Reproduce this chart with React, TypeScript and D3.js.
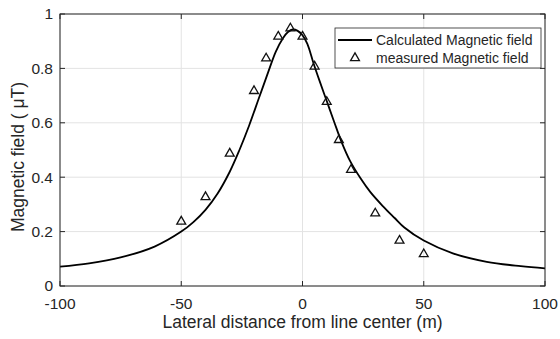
import React from "react";
import * as d3 from "d3";

// Calculated field profile (lateral distance in m, field in µT)
const calcX = [-100, -88, -75, -61, -50, -45, -40, -35, -30, -26, -22, -18, -14, -11, -8, -6, -4, -2, 0, 2, 4.5, 7, 10, 13, 16, 19.6, 24, 28, 33, 38, 42, 50, 62, 76, 90, 100];
const calcY = [0.071, 0.083, 0.105, 0.145, 0.2, 0.235, 0.28, 0.34, 0.42, 0.5, 0.59, 0.69, 0.79, 0.862, 0.912, 0.934, 0.943, 0.938, 0.922, 0.89, 0.82, 0.755, 0.68, 0.605, 0.532, 0.46, 0.395, 0.345, 0.295, 0.25, 0.215, 0.167, 0.12, 0.089, 0.073, 0.065];

// Measured field
const measX = [-50, -40, -30, -20, -15, -10, -5, 0, 5, 10, 15, 20, 30, 40, 50];
const measY = [0.24, 0.33, 0.49, 0.72, 0.84, 0.92, 0.95, 0.92, 0.81, 0.68, 0.54, 0.43, 0.27, 0.17, 0.12];

const xTicks = [-100, -50, 0, 50, 100];
const yTicks = [0, 0.2, 0.4, 0.6, 0.8, 1];

const W = 560;
const H = 339;
const plot = { left: 60, right: 545, top: 14, bottom: 286 };
const axisColor = "#262626";
const gridColor = "#e3e3e3";
const font = "'Liberation Sans', Arial, Helvetica, sans-serif";

export default function App() {
  const x = d3.scaleLinear().domain([-100, 100]).range([plot.left, plot.right]);
  const y = d3.scaleLinear().domain([0, 1]).range([plot.bottom, plot.top]);

  const line = d3
    .line<number>()
    .x((_, i) => x(calcX[i]))
    .y((d) => y(d))
    .curve(d3.curveCatmullRom.alpha(0.5));

  const tri = d3.symbol().type(d3.symbolTriangle).size(34)() as string;
  const tickLen = 5;

  return (
    <svg
      width={W}
      height={H}
      style={{ position: "absolute", left: 0, top: 0, background: "#fff" }}
      fontFamily={font}
    >
      <rect x={0} y={0} width={W} height={H} fill="#fff" />
      {/* grid */}
      {xTicks.map((t) => (
        <line key={"gx" + t} x1={x(t)} x2={x(t)} y1={plot.top} y2={plot.bottom} stroke={gridColor} strokeWidth={1} />
      ))}
      {yTicks.map((t) => (
        <line key={"gy" + t} x1={plot.left} x2={plot.right} y1={y(t)} y2={y(t)} stroke={gridColor} strokeWidth={1} />
      ))}

      {/* calculated curve */}
      <path d={line(calcY) as string} fill="none" stroke="#000" strokeWidth={1.8} />

      {/* measured markers */}
      {measX.map((v, i) => (
        <path
          key={"m" + i}
          d={tri}
          transform={`translate(${x(v)},${y(measY[i]) + 0.8})`}
          fill="none"
          stroke="#111"
          strokeWidth={1.3}
        />
      ))}

      {/* axes box */}
      <rect
        x={plot.left}
        y={plot.top}
        width={plot.right - plot.left}
        height={plot.bottom - plot.top}
        fill="none"
        stroke={axisColor}
        strokeWidth={1}
      />
      {xTicks.map((t) => (
        <g key={"tx" + t}>
          <line x1={x(t)} x2={x(t)} y1={plot.bottom} y2={plot.bottom - tickLen} stroke={axisColor} />
          <line x1={x(t)} x2={x(t)} y1={plot.top} y2={plot.top + tickLen} stroke={axisColor} />
          <text x={x(t)} y={309} textAnchor="middle" fontSize={15.5} fill={axisColor}>
            {t}
          </text>
        </g>
      ))}
      {yTicks.map((t) => (
        <g key={"ty" + t}>
          <line x1={plot.left} x2={plot.left + tickLen} y1={y(t)} y2={y(t)} stroke={axisColor} />
          <line x1={plot.right} x2={plot.right - tickLen} y1={y(t)} y2={y(t)} stroke={axisColor} />
          <text x={53} y={y(t) + 5.4} textAnchor="end" fontSize={15.5} fill={axisColor}>
            {d3.format("~g")(t)}
          </text>
        </g>
      ))}

      {/* axis titles */}
      <text x={(plot.left + plot.right) / 2} y={327.5} textAnchor="middle" fontSize={17.5} fill={axisColor}>
        Lateral distance from line center (m)
      </text>
      <text
        transform={`translate(23.5,${(plot.top + plot.bottom) / 2 + 7}) rotate(-90)`}
        textAnchor="middle"
        fontSize={17.5}
        fill={axisColor}
      >
        Magnetic field ( μT)
      </text>

      {/* legend */}
      <g>
        <rect x={335} y={28} width={206} height={40} fill="#fff" stroke={axisColor} strokeWidth={0.8} />
        <line x1={338} x2={372} y1={40} y2={40} stroke="#000" strokeWidth={1.8} />
        <text x={376} y={45} fontSize={14} fill={axisColor}>
          Calculated Magnetic field
        </text>
        <path d={tri} transform="translate(355,58)" fill="none" stroke="#111" strokeWidth={1.3} />
        <text x={376} y={63} fontSize={14} fill={axisColor}>
          measured Magnetic field
        </text>
      </g>
    </svg>
  );
}
